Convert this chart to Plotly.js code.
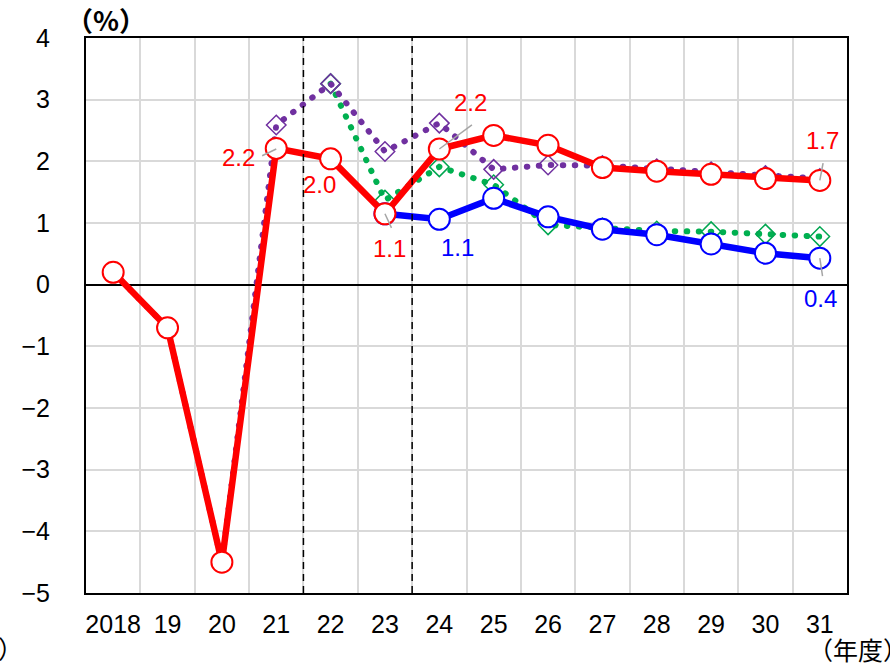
<!DOCTYPE html>
<html>
<head>
<meta charset="utf-8">
<script src="https://cdn.plot.ly/plotly-3.0.1.min.js"></script>
<style>
html, body { margin: 0; padding: 0; background: #fff; }
#chart { width: 890px; height: 663px; }
.scatterlayer .js-line { stroke-linecap: round !important; }
</style>
</head>
<body>
<div id="chart"></div>
<script>
// ---- data ----
var years = ['2018', '19', '20', '21', '22', '23', '24', '25', '26', '27', '28', '29', '30', '31'];
var redSeries    = [0.2, -0.7, -4.5, 2.21, 2.04, 1.15, 2.2, 2.42, 2.26, 1.9, 1.84, 1.79, 1.72, 1.69];
var blueSeries   = [null, null, null, null, null, 1.15, 1.06, 1.40, 1.10, 0.90, 0.81, 0.66, 0.51, 0.43];
var greenSeries  = [null, null, null, null, 3.26, 1.37, 1.91, 1.62, 0.97, 0.92, 0.87, 0.86, 0.82, 0.78];
var purpleSeries = [0.2, -0.7, -4.5, 2.59, 3.26, 2.16, 2.62, 1.87, 1.94, 1.93, 1.88, 1.83, 1.77, 1.72];
var yTicks = [-5, -4, -3, -2, -1, 0, 1, 2, 3, 4];

// data labels: [category index, label y position, text, color]
var labels = [
  [2.30, 2.07, '2.2', '#ff0000'],
  [3.80, 1.63, '2.0', '#ff0000'],
  [5.09, 0.58, '1.1', '#ff0000'],
  [6.34, 0.61, '1.1', '#0000ff'],
  [6.58, 2.95, '2.2', '#ff0000'],
  [13.04, 2.33, '1.7', '#ff0000'],
  [13.02, -0.22, '0.4', '#0000ff']
];
// leader lines: [x0, y0, x1, y1]
var leaders = [
  [2.74, 2.09, 3.0, 2.2],
  [5.0, 1.15, 5.12, 0.92],
  [6.0, 2.2, 6.60, 2.59],
  [13.0, 1.69, 13.06, 1.97],
  [13.0, 0.43, 13.05, 0.14]
];
var dividers = [3.5, 5.5];

var tickFont = 'Liberation Sans Narrow, Liberation Sans, Arial Narrow, sans-serif';
var cjkFont = 'Noto Sans CJK JP, sans-serif';

var traces = [
  {
    x: years, y: greenSeries, type: 'scatter', mode: 'lines+markers',
    line: {color: '#00b050', width: 6, dash: '0.5px,11.5px'},
    marker: {symbol: 'diamond-open', size: 15, color: '#00a650', line: {width: 1.5, color: '#00a650'}},
    connectgaps: false, hoverinfo: 'skip'
  },
  {
    x: years, y: purpleSeries, type: 'scatter', mode: 'lines+markers',
    line: {color: '#7030a0', width: 6, dash: '0.5px,11.5px'},
    marker: {symbol: 'diamond-open', size: 15, color: '#7030a0', line: {width: 1.5, color: '#7030a0'}},
    hoverinfo: 'skip'
  },
  {
    x: years, y: blueSeries, type: 'scatter', mode: 'lines+markers',
    line: {color: '#0000ff', width: 6.5},
    marker: {symbol: 'circle', size: 21, color: '#ffffff', line: {width: 2, color: '#0000ff'}},
    hoverinfo: 'skip'
  },
  {
    x: years, y: redSeries, type: 'scatter', mode: 'lines+markers',
    line: {color: '#ff0000', width: 6.5},
    marker: {symbol: 'circle', size: 21, color: '#ffffff', line: {width: 2, color: '#ff0000'}},
    hoverinfo: 'skip'
  }
];

var shapes = [];
dividers.forEach(function (d) {
  shapes.push({type: 'line', xref: 'x', yref: 'paper', x0: d, x1: d, y0: 0, y1: 1,
    line: {color: '#000000', width: 1.5, dash: '7px,5px'}, layer: 'above'});
});
leaders.forEach(function (l) {
  shapes.push({type: 'line', xref: 'x', yref: 'y', x0: l[0], y0: l[1], x1: l[2], y1: l[3],
    line: {color: '#a6a6a6', width: 1.5}, layer: 'above'});
});

var annotations = labels.map(function (a) {
  return {x: a[0], y: a[1], xref: 'x', yref: 'y', text: a[2], showarrow: false,
    xanchor: 'center', yanchor: 'middle',
    font: {family: 'Liberation Sans, Arial, sans-serif', size: 24, color: a[3]}};
});
annotations.push({xref: 'paper', yref: 'paper', x: 0.026, y: 1.034, text: '（%）', showarrow: false,
  xanchor: 'center', yanchor: 'middle', font: {family: cjkFont, size: 27, color: '#000', weight: 'bold'}});
annotations.push({xref: 'paper', yref: 'paper', x: 0.946, y: -0.101, text: '（年度）', showarrow: false,
  xanchor: 'left', yanchor: 'middle', font: {family: cjkFont, size: 25, color: '#000'}});
annotations.push({xref: 'paper', yref: 'paper', x: -0.118, y: -0.099, text: '）', showarrow: false,
  xanchor: 'left', yanchor: 'middle', font: {family: cjkFont, size: 25, color: '#000'}});

var layout = {
  width: 890, height: 663,
  margin: {l: 86, r: 43, t: 38, b: 70, pad: 0},
  paper_bgcolor: '#ffffff', plot_bgcolor: '#ffffff',
  showlegend: false,
  xaxis: {
    type: 'category', categoryorder: 'array', categoryarray: years,
    range: [-0.5, 13.5], tickson: 'boundaries', tickangle: 0,
    showgrid: true, gridcolor: '#d9d9d9', gridwidth: 2,
    showline: true, linecolor: '#000000', linewidth: 2, mirror: true,
    ticks: '', ticklabelstandoff: 8,
    tickfont: {family: tickFont, size: 25, color: '#000'},
    zeroline: false, fixedrange: true
  },
  yaxis: {
    range: [-5, 4], tickvals: yTicks, ticktext: yTicks.map(function (v) { return v < 0 ? '\u2212' + Math.abs(v) : String(v); }),
    showgrid: true, gridcolor: '#d9d9d9', gridwidth: 2,
    showline: true, linecolor: '#000000', linewidth: 2, mirror: true,
    zeroline: true, zerolinecolor: '#000000', zerolinewidth: 2,
    ticks: '', ticklabelstandoff: 29,
    tickfont: {family: tickFont, size: 25, color: '#000'},
    fixedrange: true
  },
  shapes: shapes,
  annotations: annotations
};

Plotly.newPlot('chart', traces, layout, {displayModeBar: false, staticPlot: true});
</script>
</body>
</html>
